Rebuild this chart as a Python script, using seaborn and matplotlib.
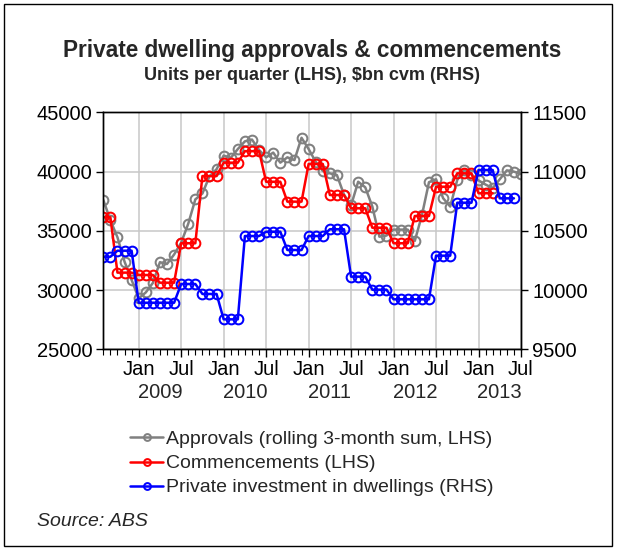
import numpy as np
import pandas as pd
import matplotlib
matplotlib.use("Agg")
import matplotlib.pyplot as plt
from matplotlib.patches import Rectangle
import seaborn as sns

# ---- data (monthly, Aug 2008 .. Jul 2013) ----
months = pd.period_range("2008-08", "2013-07", freq="M")

approvals = [37600, 35900, 34450, 32400, 30850, 29300, 29800, 30600, 32350, 32200,
             33000, 34000, 35600, 37650, 38150, 39600, 40200, 41350, 41150, 41900,
             42550, 42700, 41820, 41200, 41600, 40750, 41200, 40970, 42850, 41900,
             40830, 40050, 39850, 39700, 38050, 37150, 39140, 38670, 37050, 34500,
             34600, 35100, 35100, 35100, 34150, 36300, 39100, 39350, 37750, 37050,
             39300, 40150, 39750, 39250, 38900, 38600, 39350, 40100, 39990, 39800]

commencements = [36140, 36140,
                 31470, 31470, 31470, 31270, 31270, 31270, 30620, 30620, 30620,
                 33950, 33950, 33950, 39620, 39620, 39620, 40750, 40750, 40750,
                 41720, 41720, 41720, 39140, 39140, 39140, 37460, 37460, 37460,
                 40640, 40640, 40640, 38020, 38020, 38020, 36900, 36900, 36900,
                 35260, 35260, 35260, 33950, 33950, 33950, 36250, 36250, 36250,
                 38720, 38720, 38720, 39850, 39850, 39850, 38170, 38170, 38170,
                 None, None, None, None]

investment = [10281, 10281,
              10332, 10332, 10332, 9893, 9893, 9893, 9893, 9893, 9893,
              10051, 10051, 10051, 9967, 9967, 9967, 9753, 9753, 9753,
              10456, 10456, 10456, 10492, 10492, 10492, 10338, 10338, 10338,
              10456, 10456, 10456, 10513, 10513, 10513, 10113, 10113, 10113,
              10003, 10003, 10003, 9922, 9922, 9922, 9922, 9922, 9922,
              10290, 10290, 10290, 10737, 10737, 10737, 11013, 11013, 11013,
              10774, 10774, 10774, None]

years = [2009, 2010, 2011, 2012, 2013]

df = pd.DataFrame({
    "t": np.arange(len(months)),
    "approvals": approvals,
    "commencements": pd.array(commencements, dtype="Float64").astype(float),
    "investment": pd.array(investment, dtype="Float64").astype(float),
})

sns.set_style("white")
plt.rcParams["font.family"] = ["Liberation Sans", "DejaVu Sans"]

fig = plt.figure(figsize=(6.17, 5.5), dpi=100)
ax = fig.add_axes([103.3 / 617, 1 - 349.3 / 550, (521 - 103.3) / 617, (349.3 - 112.3) / 550])
ax2 = ax.twinx()

mk = dict(marker="o", markersize=7.0, markerfacecolor="none", markeredgewidth=1.45,
          linewidth=1.8)

sns.lineplot(data=df, x="t", y="approvals", ax=ax, color="#808080",
             markeredgecolor="#808080", label="Approvals (rolling 3-month sum, LHS)",
             legend=False, **mk)
sns.lineplot(data=df, x="t", y="commencements", ax=ax, color="#ff0000",
             markeredgecolor="#ff0000", label="Commencements (LHS)",
             legend=False, **mk)
sns.lineplot(data=df, x="t", y="investment", ax=ax2, color="#0000ff",
             markeredgecolor="#0000ff", label="Private investment in dwellings (RHS)",
             legend=False, **mk)

# ---- axes scales ----
n = len(months)
ax.set_xlim(0, n - 1)
ax.set_ylim(25000, 45000)
ax2.set_ylim(9500, 11500)
ax.set_yticks(np.arange(25000, 45001, 5000))
ax2.set_yticks(np.arange(9500, 11501, 500))

major = [i for i, m in enumerate(months) if m.month in (1, 7)]
ax.set_xticks(major)
ax.set_xticklabels(["Jan" if months[i].month == 1 else "Jul" for i in major])
ax.set_xticks(np.arange(n), minor=True)

for a in (ax, ax2):
    a.set_xlabel("")
    a.set_ylabel("")
    for s in a.spines.values():
        s.set_color("black")
        s.set_linewidth(1.0)

ax.tick_params(axis="x", which="major", direction="out", length=6, width=1,
               labelsize=14.5, pad=2, bottom=True, colors="black")
ax.tick_params(axis="x", which="minor", direction="out", length=4, width=0.8,
               bottom=True, colors="black")
ax.tick_params(axis="y", direction="out", length=5, width=1, labelsize=14.5,
               pad=3, left=True, colors="black")
ax2.tick_params(axis="y", direction="out", length=5, width=1, labelsize=14.5,
                pad=3, right=True, colors="black")

ax.grid(True, which="major", color="#c8c8c8", linewidth=1.1)
ax.set_axisbelow(True)

# year labels centred under each Jan-Jul span
for y in years:
    jan = months.get_loc(pd.Period(f"{y}-01", freq="M"))
    ax.text(jan + 3, -0.182, str(y), transform=ax.get_xaxis_transform(),
            ha="center", va="center", fontsize=14.5)

# ---- titles ----
fig.text(312 / 617, 1 - 50 / 550, "Private dwelling approvals & commencements",
         ha="center", va="center", fontsize=16.3, fontweight="bold")
fig.text(312 / 617, 1 - 75 / 550, "Units per quarter (LHS), $bn cvm (RHS)",
         ha="center", va="center", fontsize=13, fontweight="bold")

# ---- legend ----
h1, l1 = ax.get_legend_handles_labels()
h2, l2 = ax2.get_legend_handles_labels()
fig.legend(h1 + h2, l1 + l2, loc="center", bbox_to_anchor=(312 / 617, 1 - 463.5 / 550),
           frameon=False, fontsize=14, handlelength=1.7, handletextpad=0.15,
           labelspacing=0.33, markerscale=0.7)

fig.text(37 / 617, 1 - 522 / 550, "Source: ABS", ha="left", va="center",
         fontsize=14, fontstyle="italic")

# outer frame
fig.patches.append(Rectangle((4 / 617, 4 / 550), 608 / 617, 542 / 550,
                             transform=fig.transFigure, fill=False,
                             edgecolor="black", linewidth=1.0))

fig.savefig("out.png", dpi=100)
